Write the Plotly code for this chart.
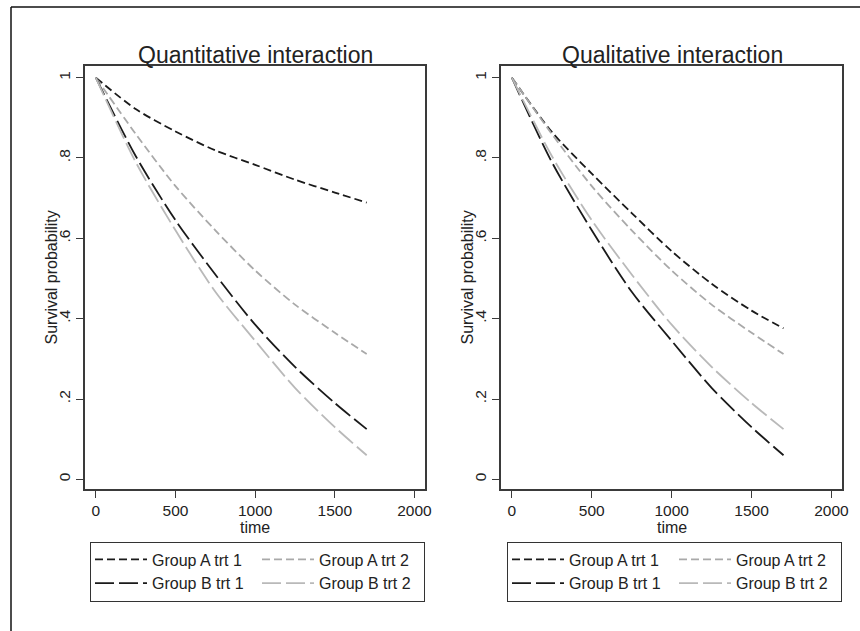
import plotly.graph_objects as go

# ---- data ----
time = [0, 250, 500, 750, 1000, 1250, 1500, 1700]

# Quantitative interaction panel
quant_A1 = [1, 0.922, 0.866, 0.819, 0.783, 0.746, 0.714, 0.689]
quant_A2 = [1, 0.86, 0.73, 0.62, 0.52, 0.435, 0.365, 0.312]
quant_B1 = [1, 0.805, 0.645, 0.51, 0.385, 0.28, 0.19, 0.125]
quant_B2 = [1, 0.79, 0.62, 0.467, 0.345, 0.228, 0.13, 0.06]

# Qualitative interaction panel
qual_A1 = [1, 0.865, 0.761, 0.663, 0.568, 0.487, 0.42, 0.376]
qual_A2 = [1, 0.86, 0.73, 0.62, 0.52, 0.435, 0.365, 0.312]
qual_B1 = [1, 0.79, 0.62, 0.467, 0.345, 0.228, 0.13, 0.06]
qual_B2 = [1, 0.805, 0.645, 0.51, 0.385, 0.28, 0.19, 0.125]

series_names = ["Group A trt 1", "Group A trt 2", "Group B trt 1", "Group B trt 2"]
panel_titles = ["Quantitative interaction", "Qualitative interaction"]
x_ticks = [0, 500, 1000, 1500, 2000]
y_ticks = [0, 0.2, 0.4, 0.6, 0.8, 1]
y_ticktext = ["0", ".2", ".4", ".6", ".8", "1"]

# ---- styles ----
FONT = "Liberation Sans, Arial, Helvetica, sans-serif"
W, H = 860, 631
styles = [
    dict(color="#1a1a1a", dash="8px,4px"),
    dict(color="#a9a9a9", dash="8px,4px"),
    dict(color="#1a1a1a", dash="19px,5px"),
    dict(color="#b9b9b9", dash="19px,5px"),
]
cols = ["c1", "c2", "c1", "c2"]

fig = go.Figure()
panels = [
    ([quant_A1, quant_A2, quant_B1, quant_B2], "x", "y", "legend", "L"),
    ([qual_A1, qual_A2, qual_B1, qual_B2], "x2", "y2", "legend2", "R"),
]
for data, xa, ya, lg, tag in panels:
    for name, vals, st, col in zip(series_names, data, styles, cols):
        fig.add_trace(go.Scatter(
            x=time, y=vals, mode="lines", name=name,
            line=dict(color=st["color"], dash=st["dash"], width=1.8, shape="spline", smoothing=0.8),
            xaxis=xa, yaxis=ya, legend=lg, legendgroup=tag + col,
            hoverinfo="skip",
        ))

px = lambda v: v / W
py = lambda v: 1 - v / H

y_dom = [py(489), py(66)]
axis_common = dict(
    showgrid=False, zeroline=False, showline=True, mirror=True,
    linecolor="#3a3a3a", linewidth=1.5, ticks="outside", ticklen=7,
    tickcolor="#3a3a3a", tickwidth=1.3,
    tickfont=dict(family=FONT, size=15.5, color="#222"),
)

fig.update_layout(
    width=W, height=H,
    margin=dict(l=0, r=0, t=0, b=0, autoexpand=False),
    paper_bgcolor="white", plot_bgcolor="white",
    font=dict(family=FONT, color="#222"),
    showlegend=True,
    xaxis=dict(domain=[px(85), px(425)], range=[-68, 2066], tickvals=x_ticks, anchor="y", **axis_common),
    yaxis=dict(domain=y_dom, range=[-0.024, 1.029], tickvals=y_ticks, ticktext=y_ticktext,
               tickangle=-90, anchor="x", **axis_common),
    xaxis2=dict(domain=[px(501), px(842)], range=[-68, 2066], tickvals=x_ticks, anchor="y2", **axis_common),
    yaxis2=dict(domain=y_dom, range=[-0.024, 1.029], tickvals=y_ticks, ticktext=y_ticktext,
                tickangle=-90, anchor="x2", **axis_common),
)

legend_common = dict(
    orientation="h", traceorder="grouped", xanchor="left", yanchor="top",
    bordercolor="#333", borderwidth=1, bgcolor="white",
    font=dict(family=FONT, size=16, color="#222"),
    itemwidth=52, entrywidth=100,
    itemclick=False, itemdoubleclick=False,
)
fig.update_layout(
    legend=dict(x=px(90), y=py(541.5), **legend_common),
    legend2=dict(x=px(507), y=py(541.5), **legend_common),
)

annotations = []
for title, cx, ytx, tx in [(panel_titles[0], 255, 51, 255), (panel_titles[1], 672, 467, 672)]:
    annotations.append(dict(text=title, x=px(cx), y=py(55), xref="paper", yref="paper",
                            showarrow=False, xanchor="center", yanchor="middle",
                            font=dict(family=FONT, size=23, color="#222")))
    annotations.append(dict(text="Survival probability", x=px(ytx), y=py(277.5), xref="paper", yref="paper",
                            showarrow=False, xanchor="center", yanchor="middle", textangle=-90,
                            font=dict(family=FONT, size=16, color="#222")))
    annotations.append(dict(text="time", x=px(tx), y=py(527.5), xref="paper", yref="paper",
                            showarrow=False, xanchor="center", yanchor="middle",
                            font=dict(family=FONT, size=16, color="#222")))
fig.update_layout(annotations=annotations)

# outer frame (top and left edges visible in the reference)
fig.add_shape(type="line", xref="paper", yref="paper", x0=px(11), x1=1, y0=py(7), y1=py(7),
              line=dict(color="#111", width=1.5))
fig.add_shape(type="line", xref="paper", yref="paper", x0=px(11), x1=px(11), y0=py(7), y1=0,
              line=dict(color="#111", width=1.5))

fig.write_html("out.html")
